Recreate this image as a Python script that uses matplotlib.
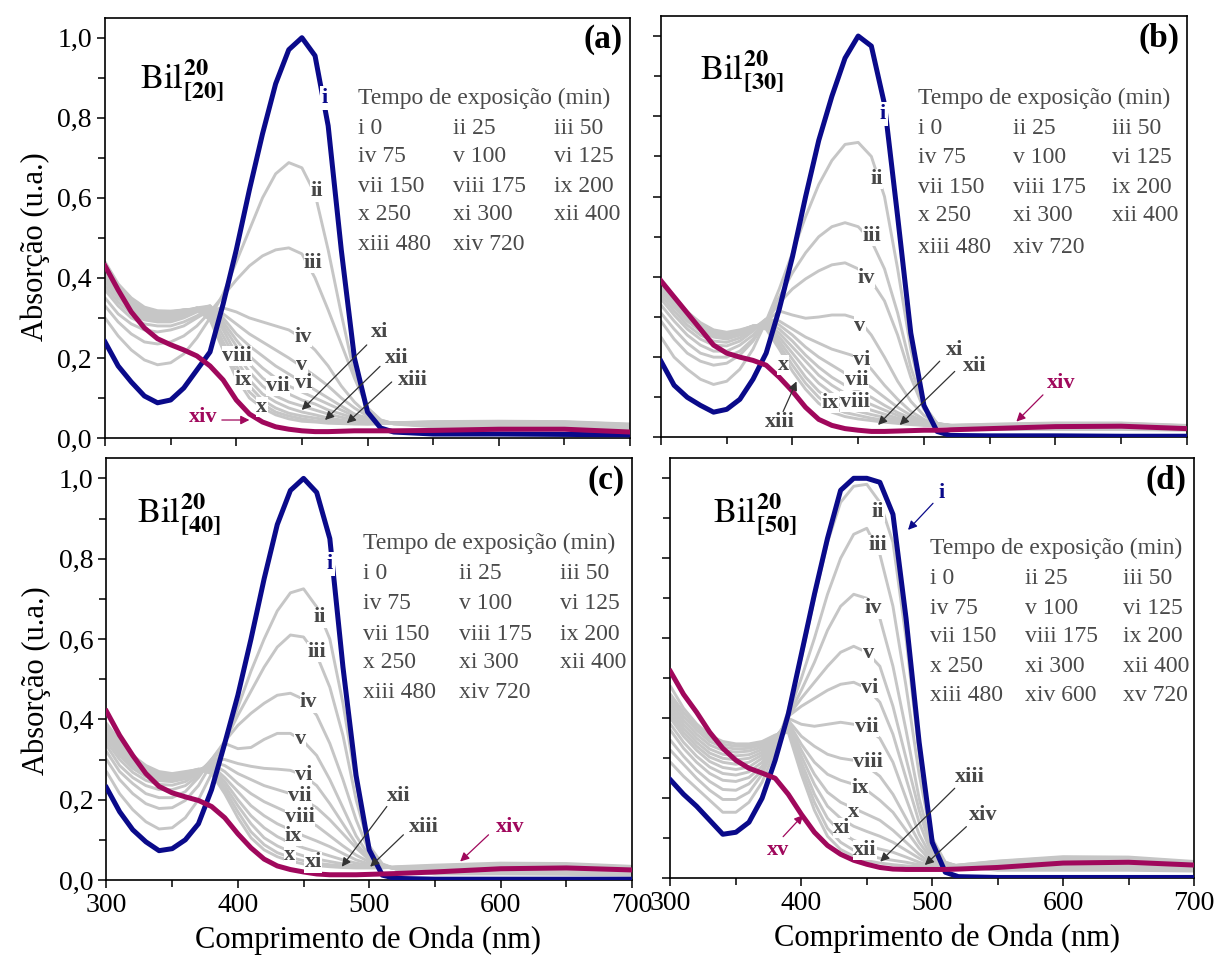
import matplotlib
matplotlib.use('Agg')
import matplotlib.pyplot as plt
from matplotlib.ticker import MultipleLocator, FuncFormatter

plt.rcParams['font.family'] = ['Liberation Serif', 'DejaVu Serif']
plt.rcParams['mathtext.fontset'] = 'stix'

# <editor-fold desc="DATA">
wl = [300, 310, 320, 330, 340, 350, 360, 370, 380, 390, 400, 410, 420, 430, 440,
      450, 460, 470, 480, 490, 500, 510, 520, 550, 600, 650, 700]

# panel (a) Bil 20/[20]
a_i = [.24, .18, .14, .105, .088, .095, .125, .17, .215, .335, .47, .62, .76, .885, .97,
       1.0, .955, .78, .47, .2, .065, .025, .015, .01, .01, .009, .008]
a_last = [.43, .37, .315, .275, .248, .233, .22, .205, .18, .145, .095, .06, .04, .028, .022,
          .018, .016, .016, .017, .018, .018, .018, .018, .019, .022, .022, .015]
a_gray = [
    [.30, .255, .22, .195, .183, .188, .21, .25, .30, .36, .44, .52, .60, .66, .688, .675, .61, .47, .31, .16, .075, .045, .035, .028, .026, .025, .022],
    [.33, .29, .26, .24, .235, .24, .255, .28, .315, .355, .395, .43, .455, .47, .475, .46, .40, .32, .235, .15, .075, .045, .036, .03, .028, .027, .024],
    [.35, .31, .285, .27, .265, .27, .28, .30, .32, .325, .315, .30, .29, .28, .27, .25, .22, .18, .13, .09, .06, .042, .037, .032, .03, .029, .026],
    [.37, .33, .30, .285, .28, .28, .29, .305, .325, .31, .285, .26, .24, .22, .20, .178, .155, .13, .10, .075, .055, .04, .037, .033, .032, .031, .027],
    [.38, .34, .31, .295, .29, .29, .30, .315, .33, .30, .26, .23, .205, .18, .16, .14, .12, .10, .08, .06, .05, .04, .037, .034, .034, .033, .028],
    [.39, .35, .32, .30, .295, .295, .305, .32, .33, .29, .245, .205, .175, .15, .13, .115, .10, .085, .07, .055, .045, .038, .036, .035, .035, .034, .029],
    [.40, .355, .325, .305, .30, .30, .31, .325, .33, .28, .23, .185, .15, .125, .11, .095, .085, .07, .06, .05, .042, .037, .036, .036, .036, .035, .03],
    [.41, .36, .33, .31, .305, .305, .315, .325, .32, .27, .21, .165, .13, .105, .09, .08, .07, .06, .052, .045, .04, .037, .037, .037, .038, .037, .031],
    [.42, .37, .335, .315, .31, .31, .318, .325, .315, .255, .195, .145, .11, .09, .075, .065, .058, .05, .045, .04, .037, .036, .037, .038, .039, .038, .032],
    [.425, .375, .34, .32, .313, .313, .32, .323, .305, .24, .18, .13, .095, .075, .062, .055, .05, .045, .04, .037, .036, .036, .037, .039, .04, .039, .033],
    [.43, .38, .345, .323, .315, .315, .32, .322, .30, .23, .165, .115, .085, .065, .055, .048, .043, .04, .037, .036, .035, .036, .038, .04, .041, .04, .034],
    [.44, .385, .35, .327, .318, .317, .32, .32, .295, .22, .15, .10, .075, .058, .048, .042, .04, .037, .036, .035, .035, .036, .038, .041, .042, .041, .035],
]

# panel (b) Bil 20/[30]
b_i = [.19, .13, .10, .08, .063, .07, .095, .145, .21, .32, .45, .60, .74, .85, .945,
       1.0, .975, .83, .55, .26, .08, .015, .005, .004, .004, .003, .003]
b_last = [.39, .35, .31, .27, .23, .21, .20, .192, .18, .15, .115, .075, .045, .03, .022,
          .018, .015, .015, .016, .017, .018, .018, .019, .022, .027, .028, .022]
b_gray = [
    [.25, .20, .17, .145, .132, .14, .17, .22, .29, .37, .46, .55, .63, .69, .73, .735, .70, .60, .42, .22, .08, .035, .028, .02, .02, .02, .018],
    [.29, .245, .21, .19, .18, .185, .205, .24, .29, .35, .41, .46, .50, .525, .535, .525, .49, .42, .31, .175, .075, .035, .029, .022, .022, .022, .02],
    [.31, .27, .235, .21, .20, .20, .215, .245, .29, .335, .37, .395, .415, .43, .435, .42, .39, .34, .255, .15, .07, .035, .03, .024, .024, .024, .021],
    [.33, .29, .255, .23, .215, .215, .23, .255, .29, .315, .305, .297, .30, .305, .305, .295, .255, .20, .14, .09, .055, .035, .03, .025, .026, .026, .022],
    [.345, .305, .27, .245, .23, .228, .24, .265, .295, .29, .27, .25, .235, .22, .21, .20, .17, .13, .095, .065, .045, .033, .03, .026, .028, .028, .023],
    [.355, .315, .28, .255, .24, .237, .248, .27, .295, .28, .255, .225, .20, .18, .16, .145, .125, .10, .075, .055, .04, .032, .03, .027, .03, .03, .024],
    [.365, .325, .29, .265, .25, .245, .255, .273, .29, .27, .24, .205, .175, .15, .13, .115, .10, .08, .062, .048, .037, .031, .03, .028, .031, .031, .025],
    [.375, .333, .297, .272, .256, .25, .258, .275, .285, .26, .225, .19, .155, .13, .11, .095, .082, .068, .055, .043, .035, .031, .03, .029, .032, .032, .026],
    [.38, .34, .302, .277, .26, .254, .262, .277, .283, .25, .21, .17, .135, .11, .09, .078, .068, .058, .048, .04, .033, .03, .03, .03, .033, .033, .027],
    [.385, .345, .307, .28, .263, .257, .264, .278, .28, .24, .195, .15, .115, .09, .075, .065, .057, .05, .043, .037, .032, .03, .03, .031, .034, .034, .028],
    [.39, .35, .31, .283, .266, .26, .266, .278, .275, .23, .18, .135, .10, .075, .062, .055, .048, .043, .038, .034, .031, .03, .03, .032, .035, .035, .029],
    [.395, .352, .313, .286, .268, .262, .268, .277, .27, .22, .165, .12, .085, .063, .052, .046, .042, .038, .035, .032, .03, .029, .03, .033, .036, .036, .03],
]

# panel (c) Bil 20/[40]
c_i = [.23, .17, .125, .095, .073, .078, .10, .14, .225, .34, .46, .60, .75, .885, .97,
       1.0, .965, .85, .53, .26, .075, .012, .004, .002, .002, .002, .002]
c_last = [.42, .36, .31, .265, .233, .217, .207, .198, .183, .155, .115, .08, .052, .035, .026,
          .02, .015, .013, .013, .013, .014, .015, .016, .02, .028, .03, .025]
c_gray = [
    [.27, .215, .175, .145, .127, .13, .155, .20, .265, .34, .43, .52, .60, .67, .715, .725, .68, .60, .44, .24, .085, .04, .028, .015, .015, .014, .012],
    [.30, .25, .215, .19, .178, .18, .198, .235, .29, .345, .41, .47, .53, .58, .61, .605, .56, .48, .36, .20, .08, .038, .028, .017, .017, .016, .014],
    [.32, .27, .24, .215, .205, .205, .22, .255, .30, .345, .385, .415, .44, .46, .465, .45, .41, .34, .25, .15, .07, .038, .028, .019, .02, .019, .016],
    [.335, .285, .255, .235, .225, .225, .235, .26, .30, .34, .327, .33, .35, .365, .365, .345, .31, .25, .18, .11, .06, .037, .028, .021, .023, .022, .018],
    [.345, .30, .268, .248, .238, .236, .245, .265, .30, .30, .29, .283, .278, .276, .273, .26, .235, .19, .14, .09, .055, .036, .028, .023, .026, .025, .02],
    [.355, .31, .278, .257, .247, .245, .252, .27, .295, .285, .265, .25, .235, .225, .215, .20, .18, .15, .115, .08, .05, .035, .028, .025, .029, .028, .022],
    [.36, .318, .285, .264, .253, .25, .257, .272, .29, .27, .24, .215, .195, .18, .165, .15, .135, .11, .085, .062, .045, .034, .028, .027, .032, .031, .024],
    [.37, .325, .292, .27, .258, .255, .261, .274, .285, .255, .22, .185, .16, .14, .125, .11, .097, .083, .066, .05, .04, .033, .029, .029, .034, .033, .026],
    [.375, .332, .298, .275, .262, .258, .264, .275, .28, .245, .20, .16, .13, .108, .092, .08, .07, .06, .05, .042, .036, .032, .03, .031, .036, .035, .028],
    [.38, .337, .302, .279, .265, .261, .266, .276, .275, .235, .185, .14, .105, .085, .07, .06, .052, .046, .04, .036, .033, .031, .031, .033, .038, .037, .03],
    [.385, .342, .306, .282, .268, .263, .268, .276, .27, .225, .17, .12, .088, .068, .056, .048, .042, .038, .035, .032, .031, .031, .032, .035, .04, .039, .032],
    [.39, .346, .31, .285, .27, .265, .27, .275, .265, .215, .155, .105, .075, .058, .047, .04, .036, .033, .031, .03, .03, .03, .033, .037, .042, .041, .034],
]

# panel (d) Bil 20/[50]
d_i = [.246, .21, .18, .145, .11, .115, .14, .20, .295, .41, .56, .71, .85, .97, 1.0,
       1.0, .99, .91, .65, .34, .09, .015, .004, .002, .002, .002, .002]
d_last = [.517, .46, .415, .365, .325, .295, .275, .263, .25, .21, .16, .115, .082, .06, .045,
          .035, .027, .023, .022, .022, .022, .022, .023, .027, .038, .04, .033]
d_gray = [
    [.29, .255, .225, .195, .165, .165, .19, .24, .32, .42, .55, .70, .84, .94, .98, .985, .94, .84, .60, .31, .10, .04, .03, .02, .02, .02, .018],
    [.32, .285, .25, .22, .197, .197, .215, .26, .33, .41, .50, .60, .71, .80, .86, .875, .81, .68, .48, .26, .09, .04, .03, .022, .023, .022, .02],
    [.345, .305, .27, .242, .222, .22, .236, .27, .33, .405, .47, .54, .62, .68, .71, .70, .65, .53, .37, .20, .075, .038, .03, .024, .026, .025, .022],
    [.37, .325, .29, .262, .245, .242, .252, .28, .335, .405, .45, .49, .53, .565, .58, .565, .53, .43, .30, .17, .065, .036, .03, .026, .029, .028, .024],
    [.385, .34, .305, .278, .262, .258, .266, .29, .34, .405, .43, .45, .47, .485, .49, .475, .44, .36, .25, .14, .058, .035, .03, .028, .032, .031, .026],
    [.40, .355, .32, .292, .277, .272, .278, .30, .345, .40, .385, .38, .385, .39, .385, .375, .35, .29, .20, .11, .05, .034, .03, .03, .035, .034, .028],
    [.41, .365, .33, .303, .29, .285, .29, .308, .35, .395, .355, .33, .31, .30, .295, .28, .255, .21, .15, .09, .045, .033, .03, .032, .038, .037, .03],
    [.42, .375, .34, .313, .30, .296, .30, .315, .352, .39, .335, .29, .26, .245, .235, .22, .195, .165, .12, .075, .04, .032, .03, .034, .041, .04, .032],
    [.43, .385, .35, .323, .31, .306, .309, .322, .353, .385, .32, .26, .215, .19, .175, .16, .145, .12, .09, .06, .036, .031, .031, .036, .044, .043, .034],
    [.44, .395, .36, .333, .32, .315, .318, .328, .355, .38, .305, .235, .18, .15, .13, .117, .105, .09, .07, .05, .034, .03, .031, .038, .047, .046, .036],
    [.45, .405, .37, .342, .328, .323, .325, .334, .356, .375, .29, .21, .15, .115, .095, .082, .073, .065, .053, .04, .032, .03, .032, .04, .05, .049, .038],
    [.46, .415, .378, .35, .335, .33, .331, .338, .357, .37, .275, .19, .125, .09, .07, .058, .05, .045, .04, .034, .031, .03, .033, .042, .052, .051, .04],
    [.48, .425, .386, .357, .342, .336, .336, .342, .358, .365, .26, .17, .105, .072, .055, .044, .038, .034, .031, .029, .028, .028, .033, .043, .054, .053, .042],
]

legend_abc = [["i 0", "ii 25", "iii 50"],
              ["iv 75", "v 100", "vi 125"],
              ["vii 150", "viii 175", "ix 200"],
              ["x 250", "xi 300", "xii 400"],
              ["xiii 480", "xiv 720", ""]]
legend_d = [["i 0", "ii 25", "iii 50"],
            ["iv 75", "v 100", "vi 125"],
            ["vii 150", "viii 175", "ix 200"],
            ["x 250", "xi 300", "xii 400"],
            ["xiii 480", "xiv 600", "xv 720"]]
# </editor-fold>

BLUE = '#0a0a8a'
MAGENTA = '#a0085c'
GRAY = '#c6c6c6'
LABEL_GRAY = '#474747'
ARROW_GRAY = '#333333'

# label positions (wl, A) -- kind: g gray, b blue, m magenta
labels_a = [('i', 467.6, .849, 'b'), ('ii', 461.3, .616, 'g'), ('iii', 458.7, .437, 'g'),
            ('iv', 451, .253, 'g'), ('v', 449.9, .1825, 'g'), ('vi', 451, .137, 'g'),
            ('vii', 432, .13, 'g'), ('viii', 400.3, .205, 'g'), ('ix', 405.4, .145, 'g'),
            ('x', 419.4, .078, 'g')]
arrows_a = [('xi', (509.5, .266), (499.4, .2325), (449.9, .07), 'g'),
            ('xii', (522.2, .199), (509.5, .179), (467.6, .045), 'g'),
            ('xiii', (534.9, .145), (518.4, .14), (484.2, .037), 'g'),
            ('xiv', (374.7, .0525), (389, .045), (410, .045), 'm')]

labels_b = [('i', 468.9, .806, 'b'), ('ii', 463.9, .644, 'g'), ('iii', 460.1, .502, 'g'),
            ('iv', 456.3, .398, 'g'), ('v', 451.2, .277, 'g'), ('vi', 452.5, .194, 'g'),
            ('vii', 448.7, .144, 'g'), ('viii', 447.4, .0895, 'g'), ('ix', 428.4, .0855, 'g'),
            ('x', 392.9, .181, 'g')]
arrows_b = [('xi', (523.4, .219), (512, .19), (465.1, .031), 'g'),
            ('xii', (538.6, .177), (523.4, .1645), (481.6, .031), 'g'),
            ('xiii', (390.4, .0395), (392.9, .0645), (403.1, .1395), 'g'),
            ('xiv', (604.5, .1355), (590.5, .106), (570.3, .0395), 'm')]

labels_c = [('i', 470.2, .7875, 'b'), ('ii', 462.6, .654, 'g'), ('iii', 460.1, .567, 'g'),
            ('iv', 453.7, .442, 'g'), ('v', 447.4, .35, 'g'), ('vi', 449.9, .2625, 'g'),
            ('vii', 447.4, .208, 'g'), ('viii', 447.4, .156, 'g'), ('ix', 442.3, .11, 'g'),
            ('x', 439.5, .062, 'g'), ('xi', 457.5, .044, 'g')]
arrows_c = [('xii', (522.2, .208), (513.4, .183), (479.1, .033), 'g'),
            ('xiii', (541.3, .133), (526, .1125), (500.7, .033), 'g'),
            ('xiv', (607.3, .133), (590.8, .1125), (569.2, .046), 'm')]

labels_d = [('ii', 458.6, .9165, 'g'), ('iii', 458.6, .833, 'g'), ('iv', 454.8, .675, 'g'),
            ('v', 451, .5625, 'g'), ('vi', 452.3, .475, 'g'), ('vii', 449.8, .379, 'g'),
            ('viii', 451, .2915, 'g'), ('ix', 444.7, .225, 'g'), ('x', 439.5, .1665, 'g'),
            ('xi', 430.7, .125, 'g'), ('xii', 448.5, .071, 'g')]
arrows_d = [('i', (507, .9625), (500.6, .9375), (481.5, .871), 'b'),
            ('xiii', (528.6, .254), (517.2, .225), (460.3, .0415), 'g'),
            ('xiv', (538.8, .158), (526.1, .129), (494.3, .033), 'g'),
            ('xv', (382.3, .071), (386.1, .104), (401.4, .158), 'm')]

KIND_COLOR = {'g': LABEL_GRAY, 'b': BLUE, 'm': MAGENTA}
ARROW_COLOR = {'g': ARROW_GRAY, 'b': BLUE, 'm': MAGENTA}


def comma_fmt(v, pos):
    return f'{v:.1f}'.replace('.', ',')


def draw_panel(ax, i_vals, last_vals, gray_rows, labels, arrows, legend_rows,
               legend_cols, legend_title_y, legend_rows_y, sub, bil_pos, letter):
    for row in gray_rows:
        ax.plot(wl, row, color=GRAY, lw=2.1, solid_joinstyle='round',
                solid_capstyle='round', zorder=2)
    ax.plot(wl, i_vals, color=BLUE, lw=3.6, solid_joinstyle='round', zorder=3)
    ax.plot(wl, last_vals, color=MAGENTA, lw=3.6, solid_joinstyle='round', zorder=4)

    for txt, x, y, kind in labels:
        pad = 1.5 if kind == 'b' else 0.1
        ax.text(x, y, txt, color=KIND_COLOR[kind], fontsize=16, fontweight='bold',
                ha='center', va='center', zorder=6,
                bbox=dict(facecolor='white', edgecolor='none', pad=pad))
    for txt, txt_pos, tail, tip, kind in arrows:
        ax.text(txt_pos[0], txt_pos[1], txt, color=KIND_COLOR[kind], fontsize=16,
                fontweight='bold', ha='center', va='center', zorder=6)
        ax.annotate('', xy=tip, xytext=tail, zorder=6,
                    arrowprops=dict(arrowstyle='-|>', color=ARROW_COLOR[kind], lw=0.9,
                                    mutation_scale=13, shrinkA=0, shrinkB=0))

    # legend written as plain text block
    ax.text(legend_cols[0], legend_title_y, 'Tempo de exposição (min)', fontsize=17,
            color='#4a4a4a', ha='left', va='center')
    for r, row in enumerate(legend_rows):
        for c, entry in enumerate(row):
            ax.text(legend_cols[c], legend_rows_y[r], entry, fontsize=17,
                    color='#4a4a4a', ha='left', va='center')

    ax.text(bil_pos[0], bil_pos[1],
            r'$\mathrm{Bil}^{\mathbf{20}}_{\mathbf{[' + sub + r']}}$',
            fontsize=25, ha='left', va='baseline')
    ax.text(0.986, 0.985, letter, transform=ax.transAxes, fontsize=24,
            fontweight='bold', ha='right', va='top')

    ax.set_xlim(300, 700)
    ax.set_ylim(0, 1.05)
    ax.xaxis.set_major_locator(MultipleLocator(100))
    ax.xaxis.set_minor_locator(MultipleLocator(50))
    ax.yaxis.set_major_locator(MultipleLocator(0.2))
    ax.yaxis.set_minor_locator(MultipleLocator(0.1))
    ax.yaxis.set_major_formatter(FuncFormatter(comma_fmt))
    ax.tick_params(which='major', direction='out', length=6, width=1.1, labelsize=20)
    ax.tick_params(which='minor', direction='out', length=5, width=1.1)
    for sp in ax.spines.values():
        sp.set_linewidth(1.2)


fig = plt.figure(figsize=(12.17, 9.61), dpi=100)
ax_a = fig.add_axes([0.0863, 0.5442, 0.4314, 0.4374])
ax_b = fig.add_axes([0.5431, 0.5448, 0.4322, 0.4386])
ax_c = fig.add_axes([0.0875, 0.0843, 0.4318, 0.4388])
ax_d = fig.add_axes([0.5509, 0.0861, 0.4302, 0.4370])

draw_panel(ax_a, a_i, a_last, a_gray, labels_a, arrows_a, legend_abc,
           [492.8, 565.4, 642], .849, [.774, .703, .628, .5575, .4825],
           '20', (326.7, .875), '(a)')
draw_panel(ax_b, b_i, b_last, b_gray, labels_b, arrows_b, legend_abc,
           [495.5, 567.7, 642.7], .844, [.769, .698, .623, .552, .473],
           '30', (329.6, .893), '(b)')
draw_panel(ax_c, c_i, c_last, c_gray, labels_c, arrows_c, legend_abc,
           [495.6, 568, 645], .8375, [.7625, .6875, .6125, .542, .467],
           '40', (323.6, .893), '(c)')
draw_panel(ax_d, d_i, d_last, d_gray, labels_d, arrows_d, legend_d,
           [498, 570.6, 646], .824, [.75, .675, .604, .529, .458],
           '50', (332.4, .893), '(d)')

for ax in (ax_a, ax_b):
    ax.tick_params(labelbottom=False)
for ax in (ax_b, ax_d):
    ax.tick_params(labelleft=False)

for ax, ly in ((ax_a, 0.456), (ax_c, 0.472)):
    ax.set_ylabel('Absorção (u.a.)', fontsize=22)
    ax.yaxis.set_label_coords(-0.105, ly)
for ax, lx in ((ax_c, 0.497), (ax_d, 0.528)):
    ax.set_xlabel('Comprimento de Onda (nm)', fontsize=22)
    ax.xaxis.set_label_coords(lx, -0.107)

fig.savefig('out.png', dpi=100)
